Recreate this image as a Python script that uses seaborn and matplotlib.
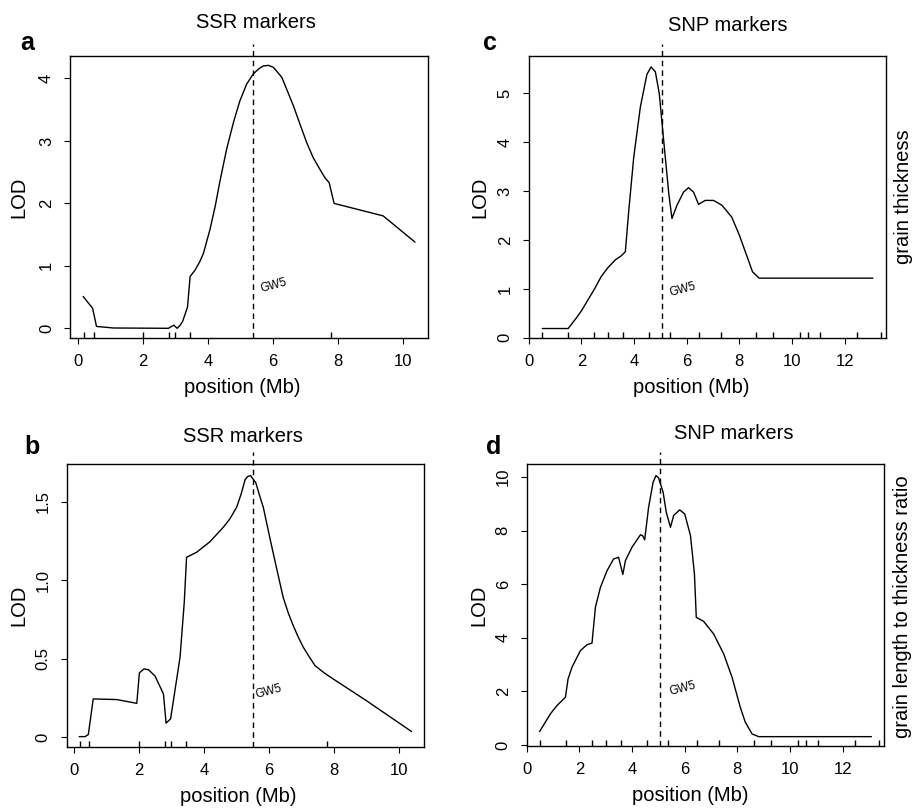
import matplotlib
matplotlib.use("Agg")
import matplotlib.pyplot as plt
import seaborn as sns

# LOD profiles
ssr_thick_pos = [0.16, 0.45, 0.57, 1.09, 2.78, 2.88, 2.95, 3.05, 3.13, 3.22, 3.37, 3.45, 3.6, 3.75,
                 3.86, 4.06, 4.22, 4.37, 4.57, 4.78, 4.98, 5.19, 5.39, 5.55, 5.7, 5.86, 6.01, 6.27,
                 6.42, 6.63, 6.83, 7.04, 7.24, 7.45, 7.6, 7.73, 7.88, 9.39, 10.37]
ssr_thick_lod = [0.51, 0.32, 0.03, 0.005, 0.0, 0.03, 0.05, 0.0, 0.04, 0.11, 0.34, 0.83, 0.93, 1.07,
                 1.2, 1.58, 1.95, 2.36, 2.86, 3.29, 3.64, 3.91, 4.07, 4.15, 4.2, 4.21, 4.18, 4.02,
                 3.83, 3.56, 3.27, 2.97, 2.73, 2.54, 2.41, 2.33, 2.0, 1.80, 1.38]

ssr_ratio_pos = [0.17, 0.35, 0.45, 0.6, 1.32, 1.94, 2.02, 2.16, 2.3, 2.5, 2.76, 2.84, 2.98, 3.27,
                 3.4, 3.47, 3.78, 4.19, 4.6, 4.8, 5.01, 5.15, 5.27, 5.35, 5.44, 5.6, 5.7, 5.83,
                 6.0, 6.14, 6.3, 6.44, 6.6, 6.75, 6.9, 7.06, 7.25, 7.42, 7.7, 7.98, 9.0, 10.39]
ssr_ratio_lod = [0.004, 0.004, 0.017, 0.244, 0.24, 0.216, 0.41, 0.435, 0.43, 0.39, 0.276, 0.09,
                 0.117, 0.51, 0.86, 1.146, 1.178, 1.245, 1.337, 1.39, 1.464, 1.55, 1.64, 1.66,
                 1.666, 1.62, 1.55, 1.464, 1.3, 1.167, 1.02, 0.891, 0.79, 0.711, 0.64, 0.573, 0.51,
                 0.456, 0.41, 0.371, 0.233, 0.036]

snp_thick_pos = [0.52, 1.5, 1.8, 2.0, 2.5, 2.75, 3.0, 3.3, 3.5, 3.67, 3.8, 3.99, 4.24, 4.49, 4.65,
                 4.81, 4.96, 5.1, 5.32, 5.44, 5.63, 5.88, 6.07, 6.26, 6.45, 6.7, 7.02, 7.34, 7.71,
                 8.0, 8.5, 8.75, 13.07]
snp_thick_lod = [0.19, 0.19, 0.4, 0.55, 1.0, 1.25, 1.43, 1.6, 1.67, 1.76, 2.6, 3.7, 4.72, 5.39, 5.54,
                 5.44, 4.99, 4.18, 2.95, 2.44, 2.71, 2.98, 3.07, 2.98, 2.73, 2.81, 2.81, 2.71, 2.47,
                 2.1, 1.35, 1.22, 1.22]

snp_ratio_pos = [0.49, 0.9, 1.15, 1.47, 1.57, 1.72, 2.04, 2.29, 2.48, 2.61, 2.8, 3.05, 3.3, 3.49,
                 3.65, 3.75, 4.0, 4.32, 4.4, 4.48, 4.63, 4.8, 4.91, 5.01, 5.18, 5.3, 5.46, 5.58,
                 5.81, 6.0, 6.22, 6.37, 6.44, 6.72, 7.1, 7.48, 7.8, 8.11, 8.3, 8.56, 8.81, 13.09]
snp_ratio_lod = [0.5, 1.16, 1.47, 1.78, 2.46, 2.9, 3.52, 3.74, 3.8, 5.14, 5.88, 6.5, 6.94, 7.0,
                 6.36, 6.88, 7.38, 7.84, 7.81, 7.65, 8.87, 9.8, 10.05, 9.96, 9.43, 8.68, 8.12, 8.56,
                 8.77, 8.62, 7.81, 6.38, 4.76, 4.61, 4.14, 3.4, 2.52, 1.41, 0.85, 0.41, 0.31, 0.31]

# marker positions (rug) and GW5 position
ssr_markers = [0.2, 0.48, 2.0, 2.81, 2.99, 3.45, 7.79]
snp_markers = [0.49, 1.5, 2.48, 3.01, 3.6, 4.57, 5.38, 6.45, 7.29, 8.63, 9.29, 10.3, 10.6,
               11.08, 12.45, 13.38]
gw5_ssr_a = 5.4
gw5_ssr_b = 5.5
gw5_snp = 5.05

W, H = 914, 808

panels = [
    dict(letter="a", title="SSR markers", x=ssr_thick_pos, y=ssr_thick_lod, rug=ssr_markers,
         gw5=gw5_ssr_a, box=(70, 56, 428, 338.3), xlim=(-0.246, 10.77), ylim=(-0.16, 4.36),
         xticks=range(0, 11, 2), yticks=[0, 1, 2, 3, 4], ylabels=["0", "1", "2", "3", "4"],
         gw5_txt=(0.18, 0.68), title_pos=(256, 22), letter_pos=(27.5, 42.5), xl=0.48, yl=-0.142),
    dict(letter="c", title="SNP markers", x=snp_thick_pos, y=snp_thick_lod, rug=snp_markers,
         gw5=gw5_snp, box=(528.7, 55.7, 886.3, 338.3), xlim=(0, 13.58), ylim=(-0.01, 5.77),
         xticks=range(0, 13, 2), yticks=[0, 1, 2, 3, 4, 5], ylabels=["0", "1", "2", "3", "4", "5"],
         gw5_txt=(0.23, 0.98), title_pos=(727.5, 25.7), letter_pos=(490, 43.3), xl=0.454, yl=-0.136),
    dict(letter="b", title="SSR markers", x=ssr_ratio_pos, y=ssr_ratio_lod, rug=ssr_markers,
         gw5=gw5_ssr_b, box=(66.7, 464.3, 424.3, 747.3), xlim=(-0.215, 10.78), ylim=(-0.064, 1.738),
         xticks=range(0, 11, 2), yticks=[0, 0.5, 1.0, 1.5], ylabels=["0", "0.5", "1.0", "1.5"],
         gw5_txt=(0.03, 0.29), title_pos=(242.5, 436.3), letter_pos=(31.7, 447.3), xl=0.481, yl=-0.133),
    dict(letter="d", title="SNP markers", x=snp_ratio_pos, y=snp_ratio_lod, rug=snp_markers,
         gw5=gw5_snp, box=(526.7, 464.3, 884.3, 746.3), xlim=(0, 13.58), ylim=(-0.05, 10.47),
         xticks=range(0, 13, 2), yticks=[0, 2, 4, 6, 8, 10], ylabels=["0", "2", "4", "6", "8", "10"],
         gw5_txt=(0.3, 2.12), title_pos=(733.7, 433.3), letter_pos=(493.3, 446.5), xl=0.457, yl=-0.134),
]

sns.set_style("ticks")
plt.rcParams["font.family"] = ["Liberation Sans", "DejaVu Sans"]
plt.rcParams["text.color"] = "black"
plt.rcParams["axes.labelcolor"] = "black"

fig = plt.figure(figsize=(W / 100, H / 100), dpi=100)

for p in panels:
    l, t, r, b = p["box"]
    ax = fig.add_axes([l / W, 1 - b / H, (r - l) / W, (b - t) / H])
    sns.lineplot(x=p["x"], y=p["y"], ax=ax, color="black", lw=1.0, estimator=None)
    sns.rugplot(x=p["rug"], ax=ax, height=0.022, color="black", lw=1.0)
    ax.axvline(p["gw5"], ymin=0, ymax=1.043, color="black", lw=1.0,
               ls=(0, (4, 3)), clip_on=False)
    gx, gy = p["gw5_txt"]
    ax.text(p["gw5"] + gx, gy, "GW5", fontsize=8.5, rotation=15, ha="left", va="center")

    ax.set_xlim(p["xlim"])
    ax.set_ylim(p["ylim"])
    ax.set_xticks(list(p["xticks"]))
    ax.set_yticks(p["yticks"])
    ax.set_yticklabels(p["ylabels"])
    ax.tick_params(direction="out", length=4.5, width=0.8, labelsize=12, pad=7, colors="black")
    plt.setp(ax.get_yticklabels(), rotation=90, va="center")
    for s in ax.spines.values():
        s.set_visible(True)
        s.set_color("black")
        s.set_linewidth(1.0)

    ax.set_xlabel("position (Mb)", fontsize=14.5)
    ax.set_ylabel("LOD", fontsize=14.5)
    ax.xaxis.set_label_coords(p["xl"], -0.174)
    ax.xaxis.label.set_va("center")
    ax.yaxis.set_label_coords(p["yl"], 0.5)
    ax.yaxis.label.set_va("center")

    tx, ty = p["title_pos"]
    fig.text(tx / W, 1 - ty / H, p["title"], fontsize=14.5, ha="center", va="center")
    lx, ly = p["letter_pos"]
    fig.text(lx / W, 1 - ly / H, p["letter"], fontsize=18, fontweight="bold",
             ha="center", va="center")

fig.text(903.7 / W, 1 - 197 / H, "grain thickness", fontsize=14.5, rotation=90,
         ha="center", va="center")
fig.text(902 / W, 1 - 607 / H, "grain length to thickness ratio", fontsize=14.5, rotation=90,
         ha="center", va="center")

fig.savefig("out.png", dpi=100)
